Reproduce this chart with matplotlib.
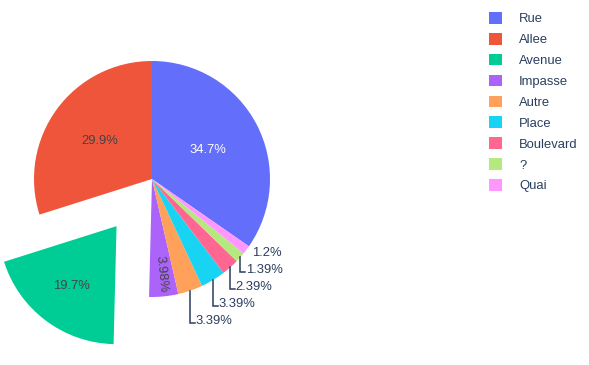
import numpy as np
import matplotlib
matplotlib.use('Agg')
import matplotlib.pyplot as plt

plt.rcParams['font.family'] = ['Liberation Sans', 'DejaVu Sans']

# Data (counts read back from the shown percentages, total 502)
labels = ['Rue', 'Allee', 'Avenue', 'Impasse', 'Autre', 'Place', 'Boulevard', '?', 'Quai']
counts = [174, 150, 99, 20, 17, 17, 12, 7, 6]
colors = ['#636EFA', '#EF553B', '#00CC96', '#AB63FA', '#FFA15A',
          '#19D3F3', '#FF6692', '#B6E880', '#FF97FF']
pull = [0, 0, 0.5, 0, 0, 0, 0, 0, 0]

total = sum(counts)
pcts = [100.0 * c / total for c in counts]

W, H = 589, 365
cx, cy, R = 152, 179, 118   # pie centre and radius in pixels
fs = 9.4
dark = '#2a3f5f'

fig = plt.figure(figsize=(W / 100, H / 100), dpi=100)
ax = fig.add_axes([0, 0, 1, 1])

start = 90 - 360.0 * counts[0] / total
wedges, _ = ax.pie(counts, colors=colors, explode=pull, startangle=start,
                   counterclock=True, radius=1, center=(0, 0),
                   wedgeprops=dict(linewidth=0))

# pie() resets the limits, so set them afterwards
ax.set_xlim(-cx / R, (W - cx) / R)
ax.set_ylim(-(H - cy) / R, cy / R)
ax.set_aspect('auto')
ax.axis('off')

def pct_text(p):
    return '{:.3g}%'.format(p)

# Inside labels
inside = {0: (0.535, 'white', 0), 1: (0.55, '#444444', 0),
          2: (0.63, '#444444', 0), 3: (0.81, '#444444', 1)}
for i, (rf, tc, rot) in inside.items():
    w = wedges[i]
    mid = np.deg2rad((w.theta1 + w.theta2) / 2)
    x = w.center[0] + rf * np.cos(mid)
    y = w.center[1] + rf * np.sin(mid)
    angle = np.rad2deg(mid) - 360 if rot else 0
    ax.text(x, y, pct_text(pcts[i]), ha='center', va='center', color=tc,
            fontsize=fs, rotation=angle, rotation_mode='anchor')

# Outside labels with leader lines, stacked from the top down
step = 17.0 / R
prev = None
for i in [8, 7, 6, 5, 4]:
    w = wedges[i]
    mid = np.deg2rad((w.theta1 + w.theta2) / 2)
    ex, ey = np.cos(mid), np.sin(mid)
    if prev is None:
        ly = ey - 0.03
        ax.text(ex + 0.05, ly, pct_text(pcts[i]), ha='left', va='center',
                color=dark, fontsize=fs)
    else:
        ly = min(ey, prev - step)
        ax.plot([ex, ex, ex + 0.04], [ey, ly - 0.01, ly - 0.01],
                color=dark, linewidth=1.1, solid_joinstyle='miter')
        ax.text(ex + 0.045, ly, pct_text(pcts[i]), ha='left', va='center',
                color=dark, fontsize=fs)
    prev = ly

leg = fig.legend(wedges, labels, loc='upper left',
                 bbox_to_anchor=(489 / W, 1 - 12 / H), frameon=False,
                 fontsize=fs, handlelength=1.0, handleheight=1.0,
                 handletextpad=1.3, labelspacing=0.58, borderpad=0,
                 borderaxespad=0)
for t in leg.get_texts():
    t.set_color(dark)

fig.savefig('out.png', dpi=100)
